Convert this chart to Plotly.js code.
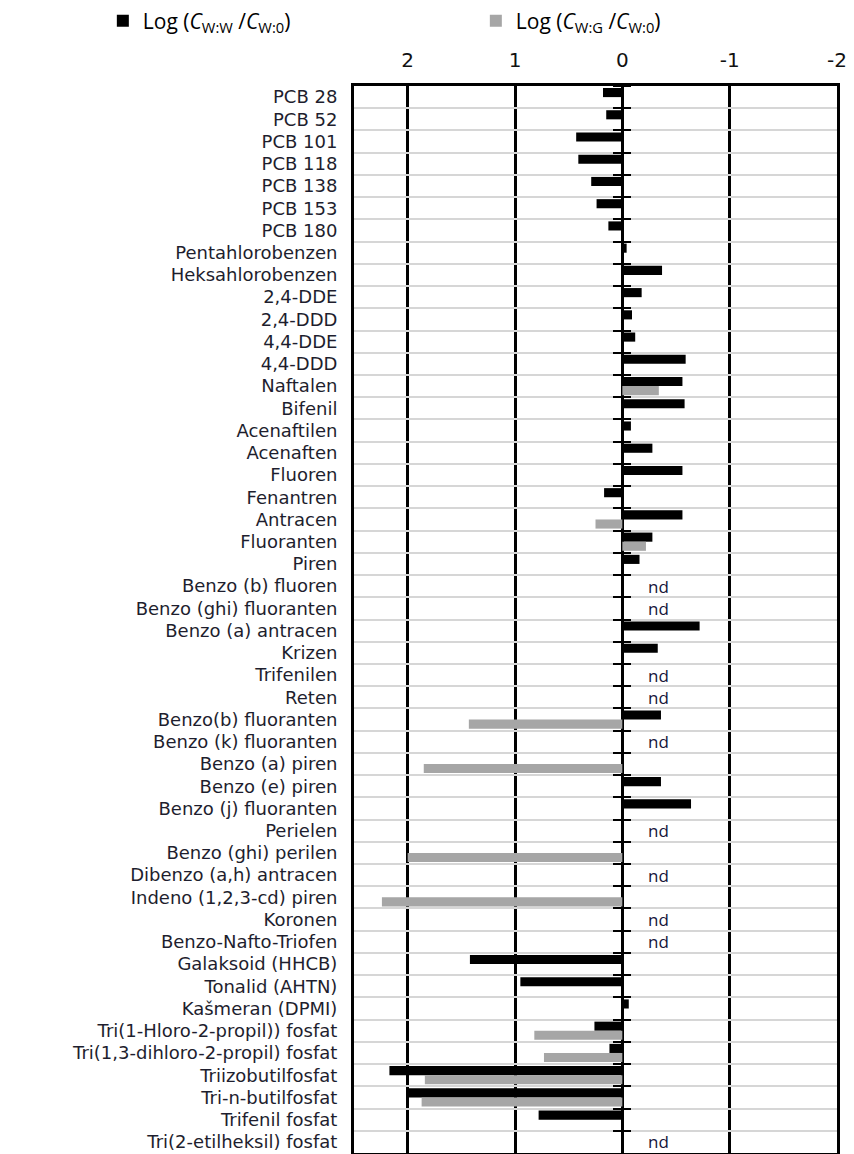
<!DOCTYPE html>
<html>
<head>
<meta charset="utf-8">
<script src="https://cdn.plot.ly/plotly-3.0.1.min.js"></script>
<style>html,body{margin:0;padding:0;background:#fff;overflow:hidden}</style>
</head>
<body>
<div id="chart" style="width:854px;height:1154px"></div>
<script>
const categories = [
  'PCB 28','PCB 52','PCB 101','PCB 118','PCB 138','PCB 153','PCB 180',
  'Pentahlorobenzen','Heksahlorobenzen','2,4-DDE','2,4-DDD','4,4-DDE','4,4-DDD',
  'Naftalen','Bifenil','Acenaftilen','Acenaften','Fluoren','Fenantren','Antracen',
  'Fluoranten','Piren','Benzo (b) fluoren','Benzo (ghi) fluoranten','Benzo (a) antracen',
  'Krizen','Trifenilen','Reten','Benzo(b) fluoranten','Benzo (k) fluoranten',
  'Benzo (a) piren','Benzo (e) piren','Benzo (j) fluoranten','Perielen',
  'Benzo (ghi) perilen','Dibenzo (a,h) antracen','Indeno (1,2,3-cd) piren','Koronen',
  'Benzo-Nafto-Triofen','Galaksoid (HHCB)','Tonalid (AHTN)','Kašmeran (DPMI)',
  'Tri(1-Hloro-2-propil)) fosfat','Tri(1,3-dihloro-2-propil) fosfat','Triizobutilfosfat',
  'Tri-n-butilfosfat','Trifenil fosfat','Tri(2-etilheksil) fosfat'
];

// Log (C W:W / C W:0)
const logWW = [
  0.18, 0.15, 0.43, 0.41, 0.29, 0.24, 0.13,
  -0.04, -0.37, -0.18, -0.09, -0.12, -0.59,
  -0.56, -0.58, -0.08, -0.28, -0.56, 0.17, -0.56,
  -0.28, -0.16, null, null, -0.72,
  -0.33, null, null, -0.36, null,
  null, -0.36, -0.64, null,
  null, null, null, null,
  null, 1.42, 0.95, -0.06,
  0.26, 0.12, 2.17,
  2.00, 0.78, null
];

// Log (C W:G / C W:0)
const logWG = [
  null, null, null, null, null, null, null,
  null, null, null, null, null, null,
  -0.34, null, null, null, null, null, 0.25,
  -0.22, null, null, null, null,
  null, null, null, 1.43, null,
  1.85, null, null, null,
  2.00, null, 2.24, null,
  null, null, null, null,
  0.82, 0.73, 1.84,
  1.87, null, null
];

const xTickVals = [2, 1, 0, -1, -2];
const xTickText = ['2', '1', '0', '-1', '-2'];
const seriesNames = [
  'Log (<i>C</i><sub>W:W</sub> /<i>C</i><sub>W:0</sub>)',
  'Log (<i>C</i><sub>W:G</sub> /<i>C</i><sub>W:0</sub>)'
];
const ndText = 'nd';

const N = categories.length;
const xRange = [2.5, -2];
const yRange = [N - 0.5, -0.5];
const labelFont = {family: 'DejaVu Sans, sans-serif', size: 18, color: '#1e1e2e'};

const traces = [
  {type: 'bar', orientation: 'h', y: categories, x: logWW, name: seriesNames[0],
   marker: {color: '#000000'}, hoverinfo: 'x+y'},
  {type: 'bar', orientation: 'h', y: categories, x: logWG, name: seriesNames[1],
   marker: {color: '#a6a6a6'}, hoverinfo: 'x+y'},
  // invisible helper that carries the small tick marks across the zero line
  {type: 'scatter', mode: 'markers', y: categories, x: categories.map(() => 0),
   yaxis: 'y2', marker: {opacity: 0}, showlegend: false, hoverinfo: 'skip'}
];

const ndAnnotations = categories
  .filter((c, i) => logWW[i] === null && logWG[i] === null)
  .map(c => ({
    x: -0.34, y: c, xref: 'x', yref: 'y', text: ndText, showarrow: false,
    font: {family: 'Open Sans, sans-serif', size: 17, color: '#15153a'}
  }));

const plotW = 854 - 354 - 17;
const zeroFrac = (xRange[0] - 0) / (xRange[0] - xRange[1]);

const layout = {
  width: 854, height: 1154,
  margin: {l: 354, r: 17, t: 83, b: 1, pad: 0},
  paper_bgcolor: '#ffffff', plot_bgcolor: '#ffffff',
  barmode: 'group', bargap: 0.18, bargroupgap: 0,
  showlegend: true,
  legend: {
    orientation: 'h', x: -0.52, xanchor: 'left', y: 1.08, yanchor: 'top',
    entrywidth: 328, entrywidthmode: 'pixels', traceorder: 'normal',
    font: {family: 'Open Sans, sans-serif', size: 21, color: '#000'},
    bgcolor: 'rgba(0,0,0,0)'
  },
  xaxis: {
    range: xRange, side: 'top', tickmode: 'array', tickvals: xTickVals, ticktext: xTickText,
    ticks: '', showgrid: true, gridcolor: '#000', gridwidth: 3,
    zeroline: false, showline: true, mirror: true, linecolor: '#000', linewidth: 3,
    ticklabelstandoff: 8,
    tickfont: {family: 'DejaVu Sans, sans-serif', size: 20, color: '#111'}
  },
  yaxis: {
    type: 'category', categoryorder: 'array', categoryarray: categories, range: yRange,
    tickson: 'boundaries', ticks: '', showgrid: true, gridcolor: '#d6d6d6', gridwidth: 2,
    showline: true, mirror: true, linecolor: '#000', linewidth: 3,
    ticklabelstandoff: 10, tickfont: labelFont
  },
  yaxis2: {
    type: 'category', categoryorder: 'array', categoryarray: categories, range: yRange,
    overlaying: 'y', anchor: 'free', side: 'left',
    position: zeroFrac + 9 / plotW,
    tickson: 'boundaries', ticks: 'outside', ticklen: 18, tickwidth: 2, tickcolor: '#000',
    showticklabels: false, showgrid: false, showline: false, zeroline: false
  },
  annotations: ndAnnotations
};

Plotly.newPlot('chart', traces, layout, {displayModeBar: false, staticPlot: true});
</script>
</body>
</html>
